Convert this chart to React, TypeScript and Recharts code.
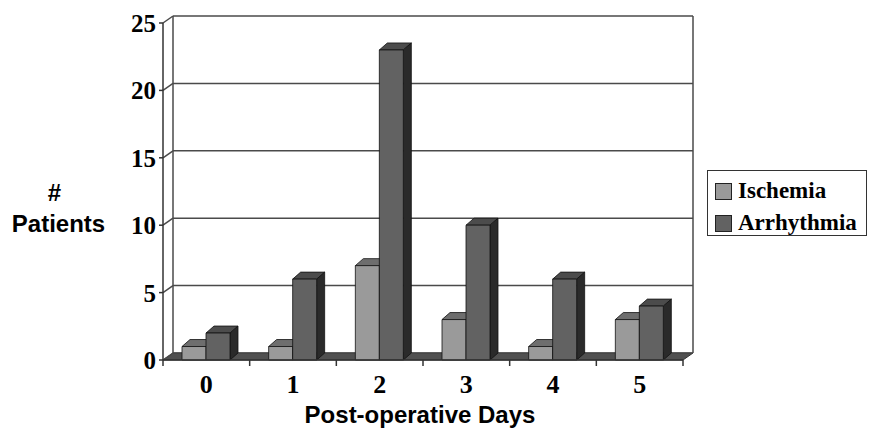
import React from "react";
import { BarChart, Bar, XAxis, YAxis, CartesianGrid } from "recharts";

// values
const days = ["0", "1", "2", "3", "4", "5"];
const ischemia = [1, 1, 7, 3, 1, 3];
const arrhythmia = [2, 6, 23, 10, 6, 4];
const yTicks = [0, 5, 10, 15, 20, 25];
const seriesNames = ["Ischemia", "Arrhythmia"];

const W = 870;
const H = 431;
const MARGIN = { top: 23, right: 187, bottom: 0, left: 0 };
const Y_AXIS_W = 163;
const X_AXIS_H = 71;
const PLOT_W = W - MARGIN.right - MARGIN.left - Y_AXIS_W;
const PLOT_BOTTOM = H - X_AXIS_H - MARGIN.bottom;

// 3d depth of the walls and of the bars
const WALL_DX = 10;
const WALL_DY = 7;
const BAR_DX = 8;
const BAR_DY = 7;

const SERIF = '"Liberation Serif", "Times New Roman", serif';
const SANS = '"Liberation Sans", Arial, sans-serif';

const colors = {
  ischemia: { front: "#9a9a9a", top: "#6e6e6e", side: "#474747" },
  arrhythmia: { front: "#626262", top: "#4c4c4c", side: "#2a2a2a" },
};

const chartData = days.map((day, i) => ({
  day,
  ischemia: ischemia[i],
  arrhythmia: arrhythmia[i],
}));

const makeBar3D =
  (c: { front: string; top: string; side: string }) => (props: any) => {
    const { x, y, width, height } = props;
    if (height == null || width == null) return <g />;
    const r = x + width;
    const b = y + height;
    return (
      <g stroke="#111" strokeWidth={0.8} strokeLinejoin="round">
        <polygon
          points={`${x},${y} ${r},${y} ${r + BAR_DX},${y - BAR_DY} ${x + BAR_DX},${y - BAR_DY}`}
          fill={c.top}
        />
        <polygon
          points={`${r},${y} ${r + BAR_DX},${y - BAR_DY} ${r + BAR_DX},${b - BAR_DY} ${r},${b}`}
          fill={c.side}
        />
        <rect x={x} y={y} width={width} height={height} fill={c.front} />
      </g>
    );
  };

const gridLine = (p: any) => {
  const { x1, x2, y1, index } = p;
  const isBottom = Math.abs(y1 - PLOT_BOTTOM) < 0.6;
  const isTop = Math.abs(y1 - MARGIN.top) < 0.6;
  return (
    <g key={`grid-${index}`} stroke="#4a4a4a" strokeWidth={1.5} fill="none">
      {isBottom && (
        <polygon
          points={`${x1},${y1} ${x2},${y1} ${x2 + WALL_DX},${y1 - WALL_DY} ${x1 + WALL_DX},${y1 - WALL_DY}`}
          fill="#505050"
          stroke="#333"
          strokeWidth={1}
        />
      )}
      <line x1={x1} y1={y1} x2={x1 + WALL_DX} y2={y1 - WALL_DY} />
      <line x1={x1 + WALL_DX} y1={y1 - WALL_DY} x2={x2 + WALL_DX} y2={y1 - WALL_DY} />
      {isTop && (
        <>
          <line
            x1={x1 + WALL_DX}
            y1={y1 - WALL_DY}
            x2={x1 + WALL_DX}
            y2={PLOT_BOTTOM - WALL_DY}
          />
          <line
            x1={x2 + WALL_DX}
            y1={y1 - WALL_DY}
            x2={x2 + WALL_DX}
            y2={PLOT_BOTTOM - WALL_DY}
          />
        </>
      )}
    </g>
  );
};

const XTick = (props: any) => {
  const { x, y, payload, index } = props;
  const band = PLOT_W / days.length;
  return (
    <g>
      <line x1={x + band / 2} y1={y} x2={x + band / 2} y2={y + 6} stroke="#333" strokeWidth={1.5} />
      {index === 0 && (
        <line x1={x - band / 2} y1={y} x2={x - band / 2} y2={y + 6} stroke="#333" strokeWidth={1.5} />
      )}
      <text
        x={x}
        y={y + 33}
        textAnchor="middle"
        fontFamily={SERIF}
        fontWeight="bold"
        fontSize={26}
        fill="#000"
      >
        {payload.value}
      </text>
    </g>
  );
};

const YTick = (props: any) => {
  const { x, y, payload } = props;
  return (
    <g>
      <line x1={x - 4} y1={y} x2={x} y2={y} stroke="#333" strokeWidth={1.5} />
      <text
        x={x - 7}
        y={y + 9}
        textAnchor="end"
        fontFamily={SERIF}
        fontWeight="bold"
        fontSize={25}
        fill="#000"
      >
        {payload.value}
      </text>
    </g>
  );
};

const YLabel = (props: any) => {
  const vb = props.viewBox || { x: 0 };
  return (
    <g fontFamily={SANS} fontWeight="bold" fill="#000">
      <text x={vb.x + 54.5} y={201} textAnchor="middle" fontSize={24}>
        #
      </text>
      <text x={vb.x + 58.5} y={232} textAnchor="middle" fontSize={24}>
        Patients
      </text>
    </g>
  );
};

const seriesKeys = ["ischemia", "arrhythmia"] as const;

const App: React.FC = () => {
  return (
    <div style={{ position: "absolute", left: 0, top: 0, width: W, height: H, background: "#fff" }}>
      <BarChart
        width={W}
        height={H}
        data={chartData}
        margin={MARGIN}
        barGap={0}
        barSize={24}
      >
        <CartesianGrid horizontal={gridLine} vertical={false} />
        <XAxis
          dataKey="day"
          height={X_AXIS_H}
          axisLine={{ stroke: "#333", strokeWidth: 1.5 }}
          tickLine={false}
          tickSize={0}
          tickMargin={0}
          tick={<XTick />}
          interval={0}
          label={{
            value: "Post-operative Days",
            position: "insideBottom",
            offset: 8,
            dx: -3,
            style: { fontFamily: SANS, fontWeight: "bold", fontSize: 24, fill: "#000" },
          }}
        />
        <YAxis
          width={Y_AXIS_W}
          domain={[0, 25]}
          ticks={yTicks}
          axisLine={{ stroke: "#333", strokeWidth: 1.5 }}
          tickLine={false}
          tickSize={0}
          tickMargin={0}
          tick={<YTick />}
          label={<YLabel />}
        />
        {seriesKeys.map((k, i) => (
          <Bar
            key={k}
            dataKey={k}
            name={seriesNames[i]}
            fill={colors[k].front}
            shape={makeBar3D(colors[k])}
            isAnimationActive={false}
          />
        ))}
      </BarChart>
      <div
        style={{
          position: "absolute",
          left: 707,
          top: 170,
          width: 158,
          height: 64,
          border: "1.5px solid #333",
          background: "#fff",
          fontFamily: SERIF,
          fontWeight: "bold",
          fontSize: 23,
        }}
      >
        {seriesKeys.map((k, i) => (
          <div
            key={k}
            style={{
              position: "absolute",
              left: 7,
              top: 7 + i * 32,
              height: 26,
              display: "flex",
              alignItems: "center",
              whiteSpace: "nowrap",
            }}
          >
            <span
              style={{
                display: "inline-block",
                width: 15,
                height: 15,
                background: colors[k].front,
                border: "1px solid #222",
                marginRight: 6,
              }}
            />
            <span>{seriesNames[i]}</span>
          </div>
        ))}
      </div>
    </div>
  );
};

export default App;
